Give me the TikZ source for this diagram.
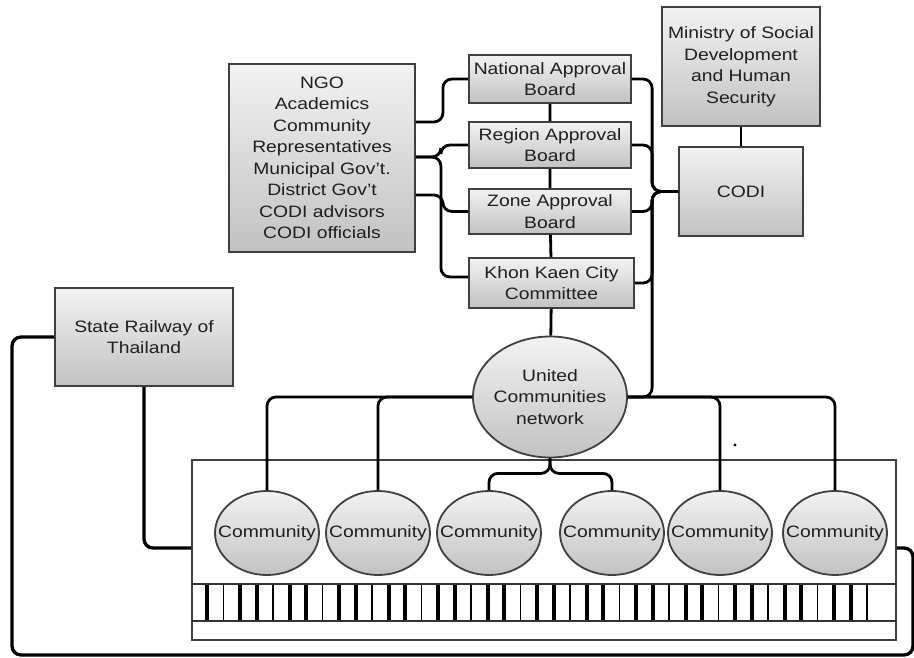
\documentclass[tikz,border=0pt]{standalone}
\usepackage{fontspec}
\setmainfont{Liberation Sans}[FakeStretch=1.17]
\usetikzlibrary{shapes.geometric}

\begin{document}
\begin{tikzpicture}[x=1pt, y=-1pt,
box/.style={draw=black!75, line width=1.8pt, top color=black!5, bottom color=black!24, align=center, text=black!88, inner sep=2pt, font=\fontsize{16.5}{21.5}\selectfont},
ring/.style={box, ellipse, inner ysep=0pt},
link/.style={line width=2.8pt, rounded corners=9pt}
]
\useasboundingbox (0,0) rectangle (914,658);

\node[box, minimum width=186pt, minimum height=188pt] (NGO) at (322,158) {NGO\\Academics\\Community\\Representatives\\Municipal Gov't.\\District Gov't\\CODI advisors\\CODI officials};
\node[box, minimum width=162pt, minimum height=48pt] (National) at (550,79) {National Approval\\Board};
\node[box, minimum width=162pt, minimum height=46pt] (Region) at (550,145) {Region Approval\\Board};
\node[box, minimum width=162pt, minimum height=45pt] (Zone) at (550,211.5) {Zone Approval\\Board};
\node[box, minimum width=165pt, minimum height=50pt] (Khon) at (551.5,283) {Khon Kaen City\\Committee};
\node[box, minimum width=158pt, minimum height=119pt] (Ministry) at (741,66.5) {Ministry of Social\\Development\\and Human\\Security};
\node[box, minimum width=124pt, minimum height=89pt] (CODI) at (741,191.5) {CODI};
\node[box, minimum width=178pt, minimum height=98pt] (SRT) at (144,337) {State Railway of\\Thailand};

\node[draw=black!75, line width=1.8pt, minimum width=704pt, minimum height=180pt] (track) at (544,550) {};
\draw[black!80, line width=1.8pt] ([yshift=-34pt]track.west) -- ([yshift=-34pt]track.east)
  ([yshift=-71pt]track.west) -- ([yshift=-71pt]track.east);
\foreach \i [evaluate=\i as \w using {mod(\i,3)==1 ? 1.6 : 4}] in {0,...,40}
  \draw[line width=\w pt] ({207+16.5*\i},585) -- ({207+16.5*\i},620);

\node[ring, inner xsep=-3pt, minimum width=154pt, minimum height=121pt] (UC) at (550,397) {United\\Communities\\network};
\foreach \cx [count=\k] in {267,378,489,612,720,835}
  \node[ring, inner xsep=-13pt, minimum width=104pt, minimum height=84pt] (c\k) at (\cx,533) {Community};

\coordinate (hub) at ([xshift=-26pt]CODI.west);
\coordinate (loopL) at (12,655);
\coordinate (loopR) at (913,655);

\draw[link] ([yshift=36pt]NGO.east) -- ++(27,0) |- (National.west);
\draw[link] ([yshift=1pt]NGO.east) -- ++(25,0) |- (Region.west);
\draw[link] ([yshift=1pt]NGO.east) -- ++(25,0) |- ([yshift=6pt]Khon.west);
\draw[link] ([yshift=-37pt]NGO.east) -- ++(27,0) |- (Zone.west);

\draw[link] (National) -- (Region) -- (Zone) -- (Khon) -- (UC);
\draw[link] (Ministry) -- (CODI);
\draw[link] (National.east) -| (hub) -- (CODI.west);
\draw[link] (Region.east) -| (hub) -- (CODI.west);
\draw[link] (Zone.east) -| (hub) -- (CODI.west);
\draw[link] (Khon.east) -| (hub) -- (CODI.west);
\draw[link] (UC.east) -| (hub) -- (CODI.west);

\draw[link] (UC.west) -| (c1.north);
\draw[link] (UC.west) -| (c2.north);
\draw[link] (UC.south) -- ++(0,15) -| (c3.north);
\draw[link] (UC.south) -- ++(0,15) -| (c4.north);
\draw[link] (UC.east) -| (c5.north);
\draw[link] (UC.east) -| (c6.north);

\draw[link, line width=3.3pt] (SRT.south) |- ([yshift=2pt]track.west);
\draw[link, line width=3.3pt] (SRT.west) -| (loopL) -- (loopR) |- ([yshift=2pt]track.east);

\fill (735,445) circle (1.6pt);
\end{tikzpicture}
\end{document}
